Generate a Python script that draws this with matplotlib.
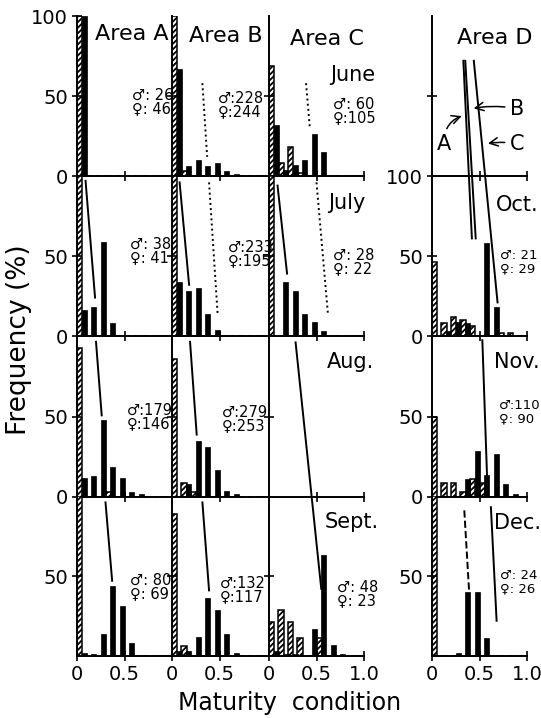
import matplotlib.pyplot as plt

plt.rcParams['font.family'] = ['DejaVu Sans']
plt.rcParams['hatch.linewidth'] = 1.3

W, H = 541, 718

# maturity classes (left edge of each 0.1 class)
bins = [0.0, 0.1, 0.2, 0.3, 0.4, 0.5, 0.6, 0.7, 0.8, 0.9]

# frequencies (%): hatched bars and solid bars
june_a_hatched = [100, 0, 0, 0, 0, 0, 0, 0, 0, 0]
june_a_solid = [100, 0, 0, 0, 0, 0, 0, 0, 0, 0]
june_b_hatched = [100, 3, 0, 0, 0, 0, 0, 0, 0, 0]
june_b_solid = [67, 6, 10, 6, 8, 3, 1, 0, 0, 0]
june_c_hatched = [69, 8, 18, 2, 0, 0, 0, 0, 0, 0]
june_c_solid = [32, 4, 7, 10, 26, 15, 0, 0, 0, 0]

july_a_hatched = [100, 0, 0, 0, 0, 0, 0, 0, 0, 0]
july_a_solid = [16, 18, 59, 8, 0, 0, 0, 0, 0, 0]
july_b_hatched = [100, 0, 0, 0, 0, 0, 0, 0, 0, 0]
july_b_solid = [34, 28, 30, 14, 4, 0, 0, 0, 0, 0]
july_c_hatched = [100, 0, 0, 0, 0, 0, 0, 0, 0, 0]
july_c_solid = [0, 34, 28, 14, 9, 3, 0, 0, 0, 0]

aug_a_hatched = [93, 0, 0, 3, 0, 0, 0, 0, 0, 0]
aug_a_solid = [12, 13, 48, 19, 12, 3, 2, 0, 0, 0]
aug_b_hatched = [86, 9, 3, 0, 0, 0, 0, 0, 0, 0]
aug_b_solid = [0, 8, 35, 31, 17, 4, 2, 0, 0, 0]

sept_a_hatched = [100, 0, 0, 0, 0, 0, 0, 0, 0, 0]
sept_a_solid = [2, 1, 14, 44, 31, 8, 0, 0, 0, 0]
sept_b_hatched = [89, 6, 0, 0, 0, 0, 0, 0, 0, 0]
sept_b_solid = [3, 3, 12, 36, 29, 14, 2, 0, 0, 0]
sept_c_hatched = [21, 29, 21, 11, 0, 11, 0, 0, 0, 0]
sept_c_solid = [3, 1, 1, 0, 17, 63, 7, 1, 0, 0]

oct_d_hatched = [46, 8, 12, 10, 6, 0, 0, 2, 2, 0]
oct_d_solid = [0, 3, 9, 8, 0, 58, 18, 0, 0, 0]
nov_d_hatched = [50, 9, 9, 3, 11, 9, 0, 0, 0, 0]
nov_d_solid = [0, 0, 0, 11, 29, 14, 27, 8, 2, 0]
dec_d_hatched = [100, 0, 0, 0, 0, 0, 0, 0, 0, 0]
dec_d_solid = [0, 0, 2, 40, 40, 11, 0, 0, 0, 0]

# (male, female) sample sizes
counts = {
    ('A', 0): (26, 46), ('B', 0): (228, 244), ('C', 0): (60, 105),
    ('A', 1): (38, 41), ('B', 1): (233, 195), ('C', 1): (28, 22),
    ('A', 2): (179, 146), ('B', 2): (279, 253),
    ('A', 3): (80, 69), ('B', 3): (132, 117), ('C', 3): (48, 23),
    ('D', 1): (21, 29), ('D', 2): (110, 90), ('D', 3): (24, 26),
}

panels = {
    ('A', 0): (june_a_hatched, june_a_solid), ('B', 0): (june_b_hatched, june_b_solid),
    ('C', 0): (june_c_hatched, june_c_solid), ('D', 0): (None, None),
    ('A', 1): (july_a_hatched, july_a_solid), ('B', 1): (july_b_hatched, july_b_solid),
    ('C', 1): (july_c_hatched, july_c_solid), ('D', 1): (oct_d_hatched, oct_d_solid),
    ('A', 2): (aug_a_hatched, aug_a_solid), ('B', 2): (aug_b_hatched, aug_b_solid),
    ('C', 2): (None, None), ('D', 2): (nov_d_hatched, nov_d_solid),
    ('A', 3): (sept_a_hatched, sept_a_solid), ('B', 3): (sept_b_hatched, sept_b_solid),
    ('C', 3): (sept_c_hatched, sept_c_solid), ('D', 3): (dec_d_hatched, dec_d_solid),
}

# growth trend lines (panel data coordinates)
trend_lines = [
    ('B', 0, [0.32, 0.37], [58, 12], ':'),
    ('C', 0, [0.39, 0.43], [58, 30], ':'),
    ('A', 1, [0.09, 0.19], [97, 24], '-'),
    ('B', 1, [0.08, 0.18], [96, 32], '-'),
    ('B', 1, [0.39, 0.48], [96, 14], ':'),
    ('C', 1, [0.09, 0.19], [94, 39], '-'),
    ('C', 1, [0.50, 0.62], [96, 14], ':'),
    ('A', 2, [0.20, 0.26], [97, 51], '-'),
    ('B', 2, [0.19, 0.26], [97, 39], '-'),
    ('A', 3, [0.30, 0.37], [96, 47], '-'),
    ('B', 3, [0.32, 0.39], [96, 41], '-'),
    ('C', 3, [0.28, 0.55], [196, 42], '-'),
    ('D', 1, [0.33, 0.42], [172, 61], '-'),
    ('D', 1, [0.35, 0.46], [172, 61], '-'),
    ('D', 1, [0.44, 0.69], [172, 21], '-'),
    ('D', 2, [0.53, 0.58], [98, 12], '-'),
    ('D', 3, [0.34, 0.39], [91, 41], '--'),
    ('D', 3, [0.62, 0.68], [93, 22], '-'),
]

col_x0 = {'A': 77, 'B': 172, 'C': 269, 'D': 432}
row_base = [176, 336, 497, 656]
UNIT = 95
FULL = 160

fig = plt.figure(figsize=(W / 100, H / 100), dpi=100)
axes = {}

for (col, row), (hat, sol) in panels.items():
    x0 = col_x0[col]
    base = row_base[row]
    ax = fig.add_axes([x0 / W, (H - base) / H, UNIT / W, FULL / H])
    ax.set_xlim(0, 1)
    ax.set_ylim(0, 100)
    ax.patch.set_alpha(0)
    for s in ['top', 'right']:
        ax.spines[s].set_visible(False)
    for s in ['left', 'bottom']:
        ax.spines[s].set_linewidth(1.4)
    ax.tick_params(direction='inout', length=7, width=1.2, labelsize=14, pad=3)

    if hat is not None:
        ax.bar([b + 0.027 for b in bins], hat, width=0.055, color='white',
               edgecolor='black', hatch='//////', linewidth=1.1)
        ax.bar([b + 0.077 for b in bins], sol, width=0.05, color='black',
               edgecolor='black', linewidth=0.5)

    # x ticks
    xt = [0.5, 1.0] if col in ('C', 'D') else [0.5]
    if row == 3:
        xt = [0] + xt
        ax.set_xticks(xt)
        ax.set_xticklabels(['0' if v == 0 else f'{v:.1f}' for v in xt])
    else:
        ax.set_xticks(xt)
        ax.set_xticklabels([])

    # y ticks
    if col == 'A':
        if row == 0:
            ax.set_yticks([0, 50, 100])
            ax.set_yticklabels(['0', '50', '100'])
        elif row == 3:
            ax.set_yticks([50])
            ax.set_yticklabels(['50'])
        else:
            ax.set_yticks([0, 50])
            ax.set_yticklabels(['0', '50'])
    elif col == 'D' and row > 0:
        if row == 1:
            ax.set_yticks([0, 50, 100])
            ax.set_yticklabels(['0', '50', '100'])
        elif row == 3:
            ax.set_yticks([50])
            ax.set_yticklabels(['50'])
        else:
            ax.set_yticks([0, 50])
            ax.set_yticklabels(['0', '50'])
    else:
        ax.set_yticks([50])
        ax.set_yticklabels([])
    axes[(col, row)] = ax

for col, row, xs, ys, ls in trend_lines:
    axes[(col, row)].plot(xs, ys, color='black', linestyle=ls, linewidth=1.4,
                          clip_on=False)

# labels A, B, C in the Area D key panel
key = axes[('D', 0)]
arrow = dict(arrowstyle='->', color='black', lw=1.1)
key.annotate('A', xy=(0.34, 38), xytext=(0.13, 20), fontsize=15, ha='center',
             va='center', arrowprops=dict(arrow, connectionstyle='arc3,rad=-0.4'))
key.annotate('B', xy=(0.41, 42), xytext=(0.9, 42), fontsize=15, ha='center',
             va='center', arrowprops=dict(arrow, connectionstyle='arc3,rad=0.1'))
key.annotate('C', xy=(0.56, 20), xytext=(0.9, 20), fontsize=15, ha='center',
             va='center', arrowprops=dict(arrow, connectionstyle='arc3,rad=0.1'))


def ftext(x, y, s, **kw):
    fig.text(x / W, 1 - y / H, s, **kw)


for name, (x, y) in {'Area A': (132, 34), 'Area B': (226, 36),
                     'Area C': (327, 39), 'Area D': (495, 38)}.items():
    ftext(x, y, name, fontsize=16, ha='center', va='center')

for name, (x, y) in {'June': (353, 75), 'July': (347, 203), 'Aug.': (350, 362),
                     'Sept.': (352, 522), 'Oct.': (517, 205), 'Nov.': (517, 362),
                     'Dec.': (517, 523)}.items():
    ftext(x, y, name, fontsize=15, ha='center', va='center')

count_pos = {
    ('A', 0): (132, 95), ('B', 0): (218, 98), ('C', 0): (333, 104),
    ('A', 1): (130, 244), ('B', 1): (228, 247), ('C', 1): (333, 255),
    ('A', 2): (127, 410), ('B', 2): (222, 412),
    ('A', 3): (130, 580), ('B', 3): (220, 583), ('C', 3): (337, 587),
    ('D', 1): (500, 255), ('D', 2): (499, 405), ('D', 3): (500, 575),
}
for k, (m, f) in counts.items():
    x, y = count_pos[k]
    size = 9.5 if k[0] == 'D' else 10.5
    ftext(x, y, f'\u2642:{m:>3}', fontsize=size, ha='left', va='center')
    ftext(x, y + 14, f'\u2640:{f:>3}', fontsize=size, ha='left', va='center')

ftext(19, 340, 'Frequency (%)', fontsize=19, rotation=90, ha='center', va='center')
ftext(290, 703, 'Maturity  condition', fontsize=17, ha='center', va='center')

fig.savefig('out.png', dpi=100)
